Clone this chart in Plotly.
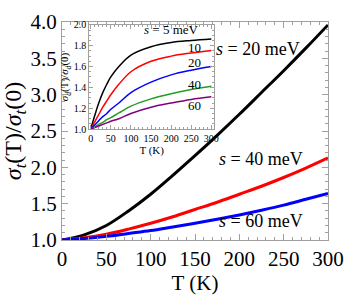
import plotly.graph_objects as go

# ---- data ----
T_main = [0, 25, 50, 75, 100, 125, 150, 175, 200, 225, 250, 275, 300]
s20 = [1.0, 1.07, 1.20, 1.40, 1.63, 1.89, 2.16, 2.44, 2.73, 3.03, 3.33, 3.64, 3.96]
s40 = [1.0, 1.03, 1.08, 1.15, 1.23, 1.32, 1.42, 1.52, 1.63, 1.74, 1.86, 1.99, 2.13]
s60 = [1.0, 1.02, 1.05, 1.09, 1.13, 1.18, 1.23, 1.285, 1.345, 1.41, 1.48, 1.56, 1.64]

T_inset = [0, 10, 20, 30, 40, 50, 70, 100, 150, 200, 250, 300]
ins5 = [1.0, 1.13, 1.25, 1.35, 1.43, 1.50, 1.60, 1.71, 1.79, 1.83, 1.85, 1.865]
ins10 = [1.0, 1.07, 1.14, 1.21, 1.27, 1.33, 1.43, 1.55, 1.65, 1.70, 1.73, 1.755]
ins20 = [1.0, 1.04, 1.08, 1.12, 1.15, 1.19, 1.25, 1.35, 1.45, 1.52, 1.565, 1.60]
ins40 = [1.0, 1.02, 1.045, 1.065, 1.09, 1.11, 1.155, 1.22, 1.29, 1.34, 1.38, 1.41]
ins60 = [1.0, 1.015, 1.03, 1.045, 1.06, 1.075, 1.10, 1.15, 1.21, 1.25, 1.285, 1.31]

main_labels = ["<i>s</i> = 20 meV", "<i>s</i> = 40 meV", "<i>s</i> = 60 meV"]
inset_labels = ["<i>s</i> = 5 meV", "10", "20", "40", "60"]

FONT = "Liberation Serif"
FRAME = "#a0a0a0"

fig = go.Figure()

for y, c in zip([s20, s40, s60], ["black", "#ff0000", "#0000ff"]):
    fig.add_trace(go.Scatter(x=T_main, y=y, mode="lines", line=dict(color=c, width=3, shape="spline"),
                             xaxis="x", yaxis="y", showlegend=False, hoverinfo="skip"))

for y, c in zip([ins5, ins10, ins20, ins40, ins60],
                ["black", "#ff0000", "#0000ff", "#1fa01f", "#800080"]):
    fig.add_trace(go.Scatter(x=T_inset, y=y, mode="lines", line=dict(color=c, width=1.5, shape="spline"),
                             xaxis="x2", yaxis="y2", showlegend=False, hoverinfo="skip"))

axis_common = dict(showline=True, linecolor=FRAME, linewidth=1, mirror="allticks",
                   ticks="inside", tickcolor=FRAME, showgrid=False, zeroline=False)

fig.update_layout(
    width=354, height=300,
    margin=dict(l=58, r=18, t=10, b=60),
    paper_bgcolor="white", plot_bgcolor="white",
    font=dict(family=FONT, color="black"),
    xaxis=dict(range=[0, 300], dtick=50, tick0=0, ticklen=6,
               minor=dict(ticks="inside", dtick=10, ticklen=3, tickcolor=FRAME),
               tickfont=dict(size=21, family=FONT),
               title=dict(text="T (K)", font=dict(size=21, family=FONT), standoff=2),
               **axis_common),
    yaxis=dict(range=[1.0, 4.0], dtick=0.5, tick0=1.0, ticklen=6, tickformat=".1f",
               minor=dict(ticks="inside", dtick=0.1, ticklen=3, tickcolor=FRAME),
               tickfont=dict(size=21, family=FONT),
               title=dict(text="<i>σ<sub>t</sub></i>(T)/<i>σ<sub>t</sub></i>(0)",
                          font=dict(size=24, family=FONT), standoff=4),
               **axis_common),
    xaxis2=dict(domain=[0.1025, 0.572], anchor="y2", range=[-3.6, 307], dtick=50, tick0=0, ticklen=4,
                minor=dict(ticks="inside", dtick=10, ticklen=2, tickcolor=FRAME),
                tickfont=dict(size=10, family=FONT),
                title=dict(text="T (K)", font=dict(size=11, family=FONT), standoff=2),
                **axis_common),
    yaxis2=dict(domain=[0.5087, 0.987], anchor="x2", range=[1.0, 2.0], dtick=0.2, tick0=1.0, ticklen=4,
                tickformat=".1f",
                minor=dict(ticks="inside", dtick=0.05, ticklen=2, tickcolor=FRAME),
                tickfont=dict(size=10, family=FONT),
                title=dict(text="<i>σ<sub>d</sub></i>(T)/<i>σ<sub>d</sub></i>(0)",
                           font=dict(size=11, family=FONT), standoff=2),
                **axis_common),
)

# main curve labels (data coordinates)
for txt, xv, yv in zip(main_labels, [221, 224.5, 224.5], [3.63, 2.11, 1.26]):
    fig.add_annotation(text=txt, x=xv, y=yv, xref="x", yref="y", showarrow=False,
                       font=dict(size=18, family=FONT, color="black"))

# inset curve labels
for txt, xv, yv in zip(inset_labels, [200, 257, 257, 257, 257], [1.955, 1.78, 1.636, 1.43, 1.227]):
    fig.add_annotation(text=txt, x=xv, y=yv, xref="x2", yref="y2", showarrow=False,
                       font=dict(size=13, family=FONT, color="black"))

fig.write_html("out.html", config={"displayModeBar": False},
               post_script="document.body.style.margin='0';")
